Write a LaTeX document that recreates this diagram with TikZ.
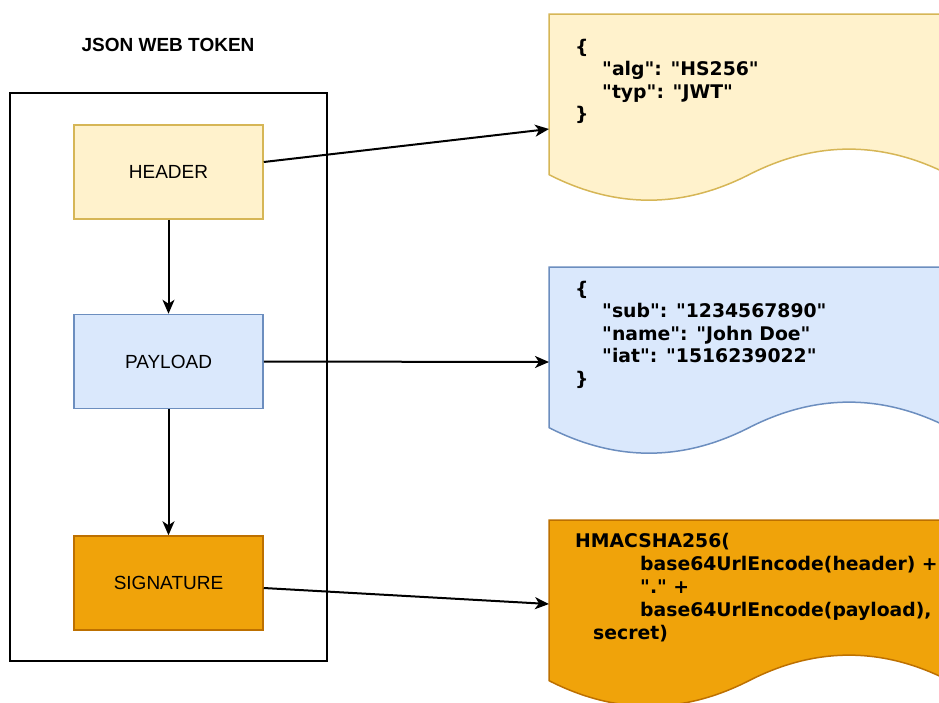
\documentclass[tikz,border=0pt]{standalone}
\usepackage{fontspec}
\setmainfont{Liberation Sans}
\newfontfamily\docfont{DejaVu Sans}
\usetikzlibrary{arrows.meta}
\definecolor{hfill}{HTML}{FFF2CC}\definecolor{hline}{HTML}{D6B656}
\definecolor{pfill}{HTML}{DAE8FC}\definecolor{pline}{HTML}{6C8EBF}
\definecolor{sfill}{HTML}{F0A30A}\definecolor{sline}{HTML}{BD7000}
\newcommand\jwtdoc[3]{%
  \begin{scope}[shift={(#2,#3)}]
  \draw[#1,line width=1.5pt] (0,0) -- (400,0) -- (400,160.65)
    .. controls (333.33,126.63) and (266.67,126.63) .. (200,160.65)
    .. controls (133.33,194.67) and (66.67,194.67) .. (0,160.65) -- cycle;
  \end{scope}}
\begin{document}
\begin{tikzpicture}[x=1pt,y=-1pt,
  box/.style={draw,line width=1.5pt,minimum width=189pt,minimum height=94pt,inner sep=0pt,font=\fontsize{19}{22}\selectfont},
  doctext/.style={anchor=base west,inner sep=0pt,align=left,font=\docfont\bfseries\fontsize{18.8}{22.5}\selectfont},
  arr/.style={line width=2pt,-{Stealth[length=14pt,width=12pt,inset=4pt]}}]
\useasboundingbox (0,0) rectangle (939,702);
\node[font=\bfseries\fontsize{19}{22}\selectfont] (title) at (168,45) {JSON WEB TOKEN};
\node[draw,line width=2pt,minimum width=317pt,minimum height=568pt,inner sep=0pt] (frame) at (168.5,377) {};
\node[box,fill=hfill,draw=hline] (hdr) at (168.5,172) {HEADER};
\node[box,fill=pfill,draw=pline] (pay) at (168.5,361.5) {PAYLOAD};
\node[box,fill=sfill,draw=sline] (sig) at (168.5,583) {SIGNATURE};
\jwtdoc{fill=hfill,draw=hline}{549}{14}
\jwtdoc{fill=pfill,draw=pline}{549}{267}
\jwtdoc{fill=sfill,draw=sline}{549}{520}
\coordinate (hin) at (549,129);
\coordinate (pin) at (549,362);
\coordinate (sin) at (549,604);
\node[doctext] (htext) at (575,53) {\begin{tabular}[t]{@{}l@{}}\{\\\hspace*{27pt}"alg": "HS256"\\\hspace*{27pt}"typ": "JWT"\\\}\end{tabular}};
\node[doctext] (ptext) at (575,295) {\begin{tabular}[t]{@{}l@{}}\{\\\hspace*{27pt}"sub": "1234567890"\\\hspace*{27pt}"name": "John Doe"\\\hspace*{27pt}"iat": "1516239022"\\\}\end{tabular}};
\node[doctext,font=\docfont\bfseries\fontsize{18.8}{23}\selectfont] (stext) at (575,547) {\begin{tabular}[t]{@{}l@{}}HMACSHA256(\\\hspace*{65pt}base64UrlEncode(header) +\\\hspace*{65pt}"." +\\\hspace*{65pt}base64UrlEncode(payload),\\\hspace*{18pt}secret)\end{tabular}};
\draw[arr] (hdr) -- (pay);
\draw[arr] (pay) -- (sig);
\draw[arr] ([yshift=10pt]hdr.east) -- (hin);
\draw[arr] (pay.east) -- (pin);
\draw[arr] ([yshift=-5pt]sig.east) -- (sin);
\end{tikzpicture}
\end{document}
